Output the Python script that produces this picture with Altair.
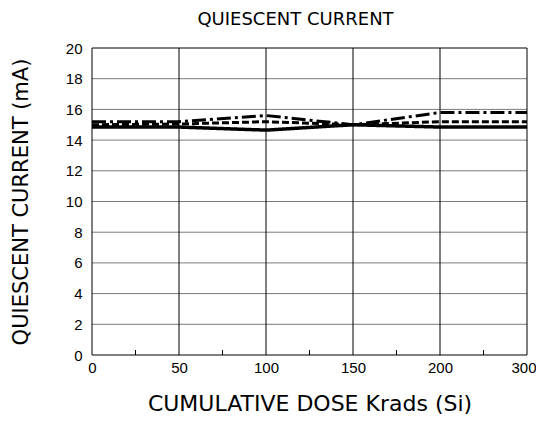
import altair as alt
import pandas as pd

dose = [0, 50, 100, 150, 200, 300]
solid = [14.85, 14.85, 14.65, 15.0, 14.85, 14.85]
dashed = [15.0, 15.05, 15.2, 15.0, 15.2, 15.2]
dashdot = [15.2, 15.2, 15.6, 15.0, 15.8, 15.8]
x_ticks = [0, 50, 100, 150, 200, 300]
minor_x = [25, 75, 125, 175, 250]
y_ticks = list(range(0, 21, 2))

rows = []
for name, vals in [("solid", solid), ("dashed", dashed), ("dashdot", dashdot)]:
    for d, v in zip(dose, vals):
        rows.append({"dose": d, "current": v, "series": name})
df = pd.DataFrame(rows)

TFONT = "DejaVu Sans"
LFONT = "Liberation Sans"
W, H = 435, 307
xs = alt.Scale(domain=[0, 200, 300], range=[0, W * 4 / 5, W])
ys = alt.Scale(domain=[0, 20], nice=False)
XT = "CUMULATIVE DOSE Krads (Si)"
YT = "QUIESCENT CURRENT (mA)"
xaxis = alt.Axis(values=x_ticks, tickSize=0, labelPadding=5, labelOverlap=False,
                 labelFlush=False, titlePadding=18, domain=False,
                 labelAlign={"condition": {"test": "datum.value == 300", "value": "right"}, "value": "center"},
                 labelOffset={"condition": {"test": "datum.value == 300", "value": 9}, "value": 0})
yaxis = alt.Axis(values=y_ticks, tickSize=0, labelPadding=10, labelOverlap=False,
                 labelFlush=False, titlePadding=34, titleFontSize=21, domain=False)

def X(field):
    return alt.X(field, scale=xs, title=XT, axis=xaxis)

def Y(field):
    return alt.Y(field, scale=ys, title=YT, axis=yaxis)

base = alt.Chart(df)

axes = base.mark_line(opacity=0).encode(x=X("dose:Q"), y=Y("current:Q"))
hgrid = alt.Chart(pd.DataFrame({"v": y_ticks[1:-1]})).mark_rule(color="#7a7a7a", strokeWidth=1).encode(
    y=Y("v:Q"))
vgrid = alt.Chart(pd.DataFrame({"v": x_ticks[1:-1]})).mark_rule(color="black", strokeWidth=1).encode(
    x=X("v:Q"))
minor = alt.Chart(pd.DataFrame({"v": minor_x})).mark_rule(color="black", strokeWidth=1).encode(
    x=X("v:Q"), y=alt.value(H), y2=alt.value(H - 5))

def line(name, dash, width=3):
    return base.transform_filter(alt.datum.series == name).mark_line(
        color="black", strokeWidth=width, strokeDash=dash).encode(
        x=X("dose:Q"), y=Y("current:Q"))

frame = alt.Chart(pd.DataFrame({"a": [0]})).mark_rect(fill=None, stroke="black", strokeWidth=1).encode(
    x=alt.value(0), x2=alt.value(W), y=alt.value(0), y2=alt.value(H))

chart = alt.layer(
    axes, hgrid, vgrid, minor,
    line("solid", [1, 0], 3.5),
    line("dashed", [7, 3], 3),
    line("dashdot", [14, 4, 3, 4], 3),
    frame,
).properties(
    width=W, height=H,
    title=alt.TitleParams("QUIESCENT CURRENT", font=TFONT, fontSize=18, fontWeight="normal",
                          offset=12, dx=-14),
    padding={"left": 84, "top": 40, "right": 9, "bottom": 59},
    autosize=alt.AutoSizeParams(type="none"),
).configure_view(stroke=None).configure_axis(
    grid=False, labelFont=LFONT, labelFontSize=15, labelColor="black",
    titleFont=TFONT, titleFontSize=22, titleFontWeight="normal", titleColor="black",
)

chart.save("out.html", embed_options={"renderer": "svg", "actions": False})
